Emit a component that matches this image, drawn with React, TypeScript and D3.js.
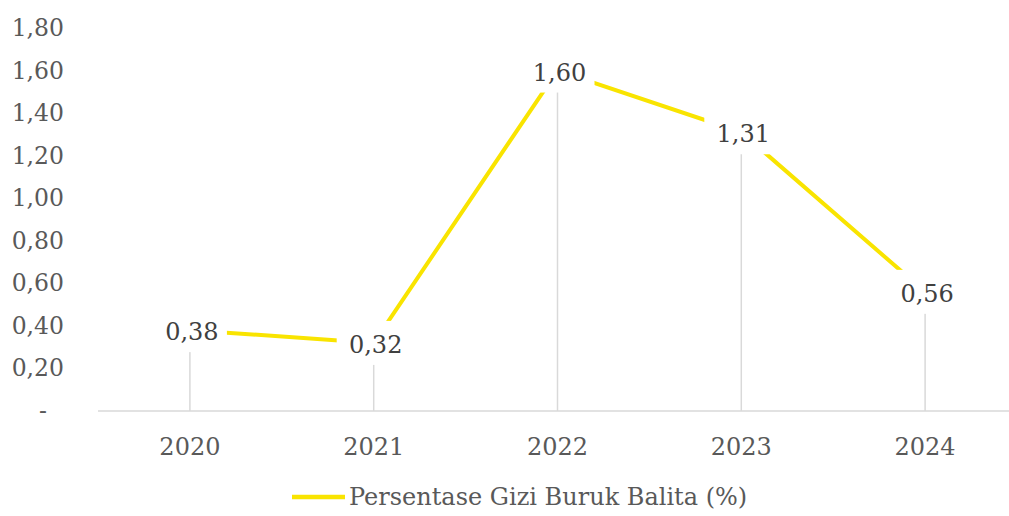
import React from "react";
import * as d3 from "d3";

const years = ["2020", "2021", "2022", "2023", "2024"];
const values = [0.38, 0.32, 1.6, 1.31, 0.56];
const yTicks = [0, 0.2, 0.4, 0.6, 0.8, 1.0, 1.2, 1.4, 1.6, 1.8];
const seriesName = "Persentase Gizi Buruk Balita (%)";

const width = 1009;
const height = 516;
const font = "'DejaVu Serif', serif";
const lineColor = "#F9E400";
const gridColor = "#d9d9d9";
const textColor = "#595959";

const fmt = (v: number) => (v === 0 ? "-" : v.toFixed(2).replace(".", ","));

export default function App() {
  const x = d3.scalePoint<string>().domain(years).range([98, 1017]).padding(0.5);
  const y = d3.scaleLinear().domain([0, 1.8]).range([411, 28]);

  const points = years.map((yr, i) => ({ yr, v: values[i], px: x(yr) as number, py: y(values[i]) }));
  const linePath =
    d3
      .line<{ px: number; py: number }>()
      .x((d) => d.px)
      .y((d) => d.py)(points) || "";

  return (
    <svg
      width={width}
      height={height}
      style={{ position: "absolute", left: 0, top: 0, background: "#fff" }}
      fontFamily={font}
    >
      {/* y tick labels (zero shown as accounting dash) */}
      {yTicks.map((t) => (
        <text
          key={t}
          x={t === 0 ? 47 : 64}
          y={y(t)}
          textAnchor="end"
          dominantBaseline="central"
          fontSize={23.5}
          fill={textColor}
        >
          {fmt(t)}
        </text>
      ))}

      {/* baseline */}
      <line x1={98} x2={width} y1={y(0)} y2={y(0)} stroke={gridColor} strokeWidth={1.5} />

      {/* drop lines */}
      {points.map((p) => (
        <line key={p.yr} x1={p.px} x2={p.px} y1={y(0)} y2={p.py} stroke={gridColor} strokeWidth={1.5} />
      ))}

      {/* series line */}
      <path d={linePath} fill="none" stroke={lineColor} strokeWidth={4} strokeLinejoin="round" />

      {/* data labels with white boxes */}
      {points.map((p) => (
        <g key={p.yr}>
          <rect x={p.px - 37} y={p.py - 22} width={74} height={44} fill="#fff" />
          <text
            x={p.px + 2}
            y={p.py + 2}
            textAnchor="middle"
            dominantBaseline="central"
            fontSize={24}
            fill="#404040"
          >
            {fmt(p.v)}
          </text>
        </g>
      ))}

      {/* x labels */}
      {years.map((yr) => (
        <text
          key={yr}
          x={x(yr) as number}
          y={447}
          textAnchor="middle"
          dominantBaseline="central"
          fontSize={24}
          fill={textColor}
        >
          {yr}
        </text>
      ))}

      {/* legend */}
      <line x1={292} x2={345} y1={497} y2={497} stroke={lineColor} strokeWidth={4.5} />
      <text x={349} y={497} dominantBaseline="central" fontSize={24} fill={textColor}>
        {seriesName}
      </text>
    </svg>
  );
}
